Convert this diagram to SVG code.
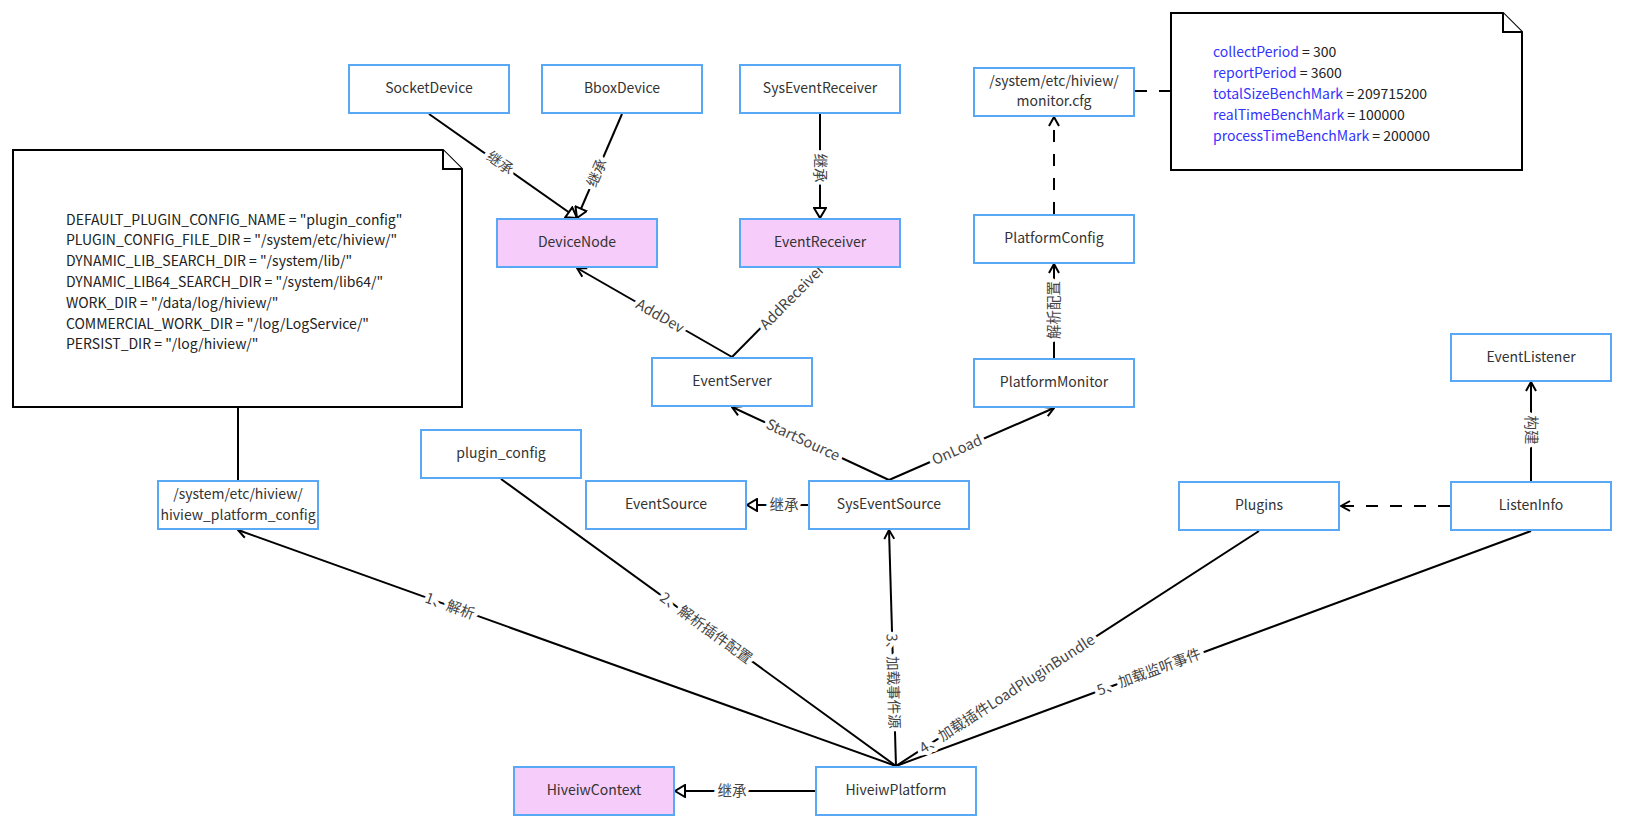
<svg xmlns="http://www.w3.org/2000/svg" width="1626" height="829" viewBox="0 0 1626 829">
<style>
.box{fill:#fff;stroke:#58a8f5;stroke-width:2}
.pink{fill:#f6ccfa}
.t{font-family:"Noto Sans CJK SC","Noto Sans",sans-serif;font-size:14px;fill:#333;text-anchor:middle;dominant-baseline:central}
.ln{fill:none;stroke:#000;stroke-width:2}
.dash{stroke-dasharray:12 12}
.lb{font-family:"Noto Sans CJK SC","Noto Sans",sans-serif;font-size:14.5px;fill:#444;text-anchor:middle;dominant-baseline:central;paint-order:stroke;stroke:#fff;stroke-width:8px;stroke-linejoin:round}
.note{fill:#fff;stroke:#000;stroke-width:2}
.nt{font-family:"Noto Sans CJK SC","Noto Sans",sans-serif;font-size:14px;fill:#222;dominant-baseline:central}
.bl{fill:#3333ff}
</style>
<defs>
<marker id="open" viewBox="0 0 12 12" refX="11" refY="6" markerWidth="12" markerHeight="12" markerUnits="userSpaceOnUse" orient="auto"><path d="M2,1 L11,6 L2,11" fill="none" stroke="#000" stroke-width="2"/></marker>
<marker id="tri" viewBox="0 0 14 14" refX="12" refY="7" markerWidth="14" markerHeight="14" markerUnits="userSpaceOnUse" orient="auto"><path d="M2,1 L12,7 L2,13 Z" fill="#fff" stroke="#000" stroke-width="2"/></marker>
</defs>
<rect width="1626" height="829" fill="#fff"/>

<g id="connectors">
<line class="ln" x1="429" y1="114" x2="577" y2="218" marker-end="url(#tri)"/>
<line class="ln" x1="622" y1="114" x2="577" y2="218" marker-end="url(#tri)"/>
<line class="ln" x1="820" y1="114" x2="820" y2="218" marker-end="url(#tri)"/>
<line class="ln" x1="732" y1="357" x2="577" y2="268" marker-end="url(#open)"/>
<line class="ln" x1="732" y1="357" x2="820" y2="268" marker-end="url(#open)"/>
<line class="ln" x1="889" y1="480" x2="732" y2="407" marker-end="url(#open)"/>
<line class="ln" x1="889" y1="480" x2="1054" y2="408" marker-end="url(#open)"/>
<line class="ln" x1="808" y1="505" x2="747" y2="505" marker-end="url(#tri)"/>
<line class="ln" x1="1054" y1="358" x2="1054" y2="264" marker-end="url(#open)"/>
<line class="ln dash" x1="1054" y1="214" x2="1054" y2="117" marker-end="url(#open)"/>
<line class="ln dash" x1="1135" y1="91" x2="1170" y2="91"/>
<line class="ln" x1="238" y1="408" x2="238" y2="480"/>
<line class="ln" x1="896" y1="766" x2="238" y2="530" marker-end="url(#open)"/>
<line class="ln" x1="896" y1="766" x2="501" y2="479"/>
<line class="ln" x1="896" y1="766" x2="889" y2="530" marker-end="url(#open)"/>
<line class="ln" x1="896" y1="766" x2="1259" y2="531"/>
<line class="ln" x1="896" y1="766" x2="1531" y2="531"/>
<line class="ln dash" x1="1450" y1="506" x2="1341" y2="506" marker-end="url(#open)"/>
<line class="ln" x1="1531" y1="481" x2="1531" y2="382" marker-end="url(#open)"/>
<line class="ln" x1="815" y1="791" x2="675" y2="791" marker-end="url(#tri)"/>

<text class="lb" transform="translate(500,163) rotate(35.1)" y="-1.5">继承</text>
<text class="lb" transform="translate(597,173) rotate(-66.6)" y="-1.5">继承</text>
<text class="lb" transform="translate(820,168) rotate(90)" y="-1.5">继承</text>
<text class="lb" transform="translate(660,316) rotate(29.9)" y="-1.5">AddDev</text>
<text class="lb" transform="translate(792,297) rotate(-45.3)" y="-1.5">AddReceiver</text>
<text class="lb" transform="translate(803,440) rotate(24.9)" y="-1.5">StartSource</text>
<text class="lb" transform="translate(957,450) rotate(-23.6)" y="-1.5">OnLoad</text>
<text class="lb" x="784" y="503">继承</text>
<text class="lb" transform="translate(1054,310) rotate(-90)" y="-1.5">解析配置</text>
<text class="lb" transform="translate(450,606) rotate(19.7)" y="-1.5">1、解析</text>
<text class="lb" transform="translate(706,628) rotate(36)" y="-1.5">2、解析插件配置</text>
<text class="lb" transform="translate(893,681) rotate(88.3)" y="-1.5">3、加载事件源</text>
<text class="lb" transform="translate(1007,694) rotate(-32.9)" y="-1.5">4、加载插件LoadPluginBundle</text>
<text class="lb" transform="translate(1149,672) rotate(-20.3)" y="-1.5">5、加载监听事件</text>
<text class="lb" transform="translate(1531,430) rotate(90)" y="-1.5">构建</text>
<text class="lb" x="732" y="789">继承</text>
</g>

<g id="note1">
<path class="note" d="M13,150 H443 L462,169 V407 H13 Z"/>
<path class="note" d="M443,150 V169 H462"/>
<text class="nt" x="66" y="218.5">DEFAULT_PLUGIN_CONFIG_NAME = "plugin_config"</text>
<text class="nt" x="66" y="239.3">PLUGIN_CONFIG_FILE_DIR = "/system/etc/hiview/"</text>
<text class="nt" x="66" y="260.1">DYNAMIC_LIB_SEARCH_DIR = "/system/lib/"</text>
<text class="nt" x="66" y="280.9">DYNAMIC_LIB64_SEARCH_DIR = "/system/lib64/"</text>
<text class="nt" x="66" y="301.7">WORK_DIR = "/data/log/hiview/"</text>
<text class="nt" x="66" y="322.5">COMMERCIAL_WORK_DIR = "/log/LogService/"</text>
<text class="nt" x="66" y="343.3">PERSIST_DIR = "/log/hiview/"</text>
</g>

<g id="note2">
<path class="note" d="M1171,13 H1503 L1522,32 V170 H1171 Z"/>
<path class="note" d="M1503,13 V32 H1522"/>
<text class="nt" x="1213" y="50.5"><tspan class="bl">collectPeriod</tspan> = 300</text>
<text class="nt" x="1213" y="71.5"><tspan class="bl">reportPeriod</tspan> = 3600</text>
<text class="nt" x="1213" y="92.5"><tspan class="bl">totalSizeBenchMark</tspan> = 209715200</text>
<text class="nt" x="1213" y="113.5"><tspan class="bl">realTimeBenchMark</tspan> = 100000</text>
<text class="nt" x="1213" y="134.5"><tspan class="bl">processTimeBenchMark</tspan> = 200000</text>
</g>

<g id="SocketDevice"><rect class="box" x="349" y="65" width="160" height="48"/><text class="t" x="429" y="87">SocketDevice</text></g>
<g id="BboxDevice"><rect class="box" x="542" y="65" width="160" height="48"/><text class="t" x="622" y="87">BboxDevice</text></g>
<g id="SysEventReceiver"><rect class="box" x="740" y="65" width="160" height="48"/><text class="t" x="820" y="87">SysEventReceiver</text></g>
<g id="DeviceNode"><rect class="box pink" x="497" y="219" width="160" height="48"/><text class="t" x="577" y="241">DeviceNode</text></g>
<g id="EventReceiver"><rect class="box pink" x="740" y="219" width="160" height="48"/><text class="t" x="820" y="241">EventReceiver</text></g>
<g id="MonitorCfg"><rect class="box" x="974" y="68" width="160" height="48"/><text class="t" x="1054" y="79.5">/system/etc/hiview/</text><text class="t" x="1054" y="100">monitor.cfg</text></g>
<g id="PlatformConfig"><rect class="box" x="974" y="215" width="160" height="48"/><text class="t" x="1054" y="237">PlatformConfig</text></g>
<g id="PlatformMonitor"><rect class="box" x="974" y="359" width="160" height="48"/><text class="t" x="1054" y="381">PlatformMonitor</text></g>
<g id="EventServer"><rect class="box" x="652" y="358" width="160" height="48"/><text class="t" x="732" y="380">EventServer</text></g>
<g id="EventListener"><rect class="box" x="1451" y="334" width="160" height="47"/><text class="t" x="1531" y="355.5">EventListener</text></g>
<g id="plugin_config"><rect class="box" x="421" y="430" width="160" height="48"/><text class="t" x="501" y="452">plugin_config</text></g>
<g id="HiviewPlatformConfig"><rect class="box" x="158" y="481" width="160" height="48"/><text class="t" x="238" y="493">/system/etc/hiview/</text><text class="t" x="238" y="514">hiview_platform_config</text></g>
<g id="EventSource"><rect class="box" x="586" y="481" width="160" height="48"/><text class="t" x="666" y="503">EventSource</text></g>
<g id="SysEventSource"><rect class="box" x="809" y="481" width="160" height="48"/><text class="t" x="889" y="503">SysEventSource</text></g>
<g id="Plugins"><rect class="box" x="1179" y="482" width="160" height="48"/><text class="t" x="1259" y="504">Plugins</text></g>
<g id="ListenInfo"><rect class="box" x="1451" y="482" width="160" height="48"/><text class="t" x="1531" y="504">ListenInfo</text></g>
<g id="HiveiwContext"><rect class="box pink" x="514" y="767" width="160" height="48"/><text class="t" x="594" y="789">HiveiwContext</text></g>
<g id="HiveiwPlatform"><rect class="box" x="816" y="767" width="160" height="48"/><text class="t" x="896" y="789">HiveiwPlatform</text></g>
</svg>
